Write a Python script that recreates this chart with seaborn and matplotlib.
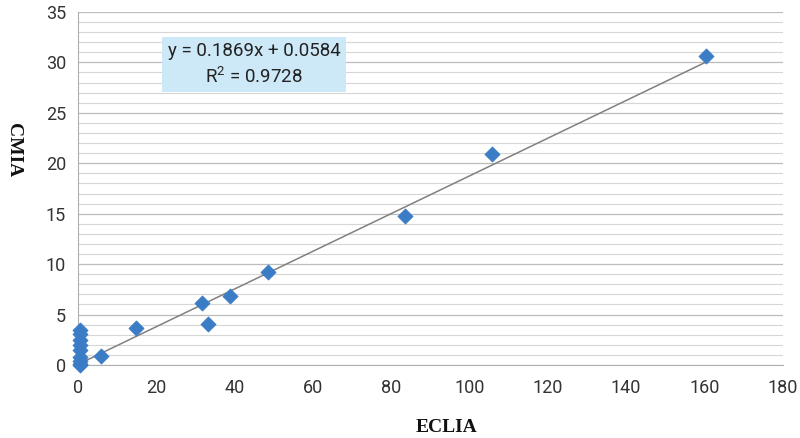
import numpy as np
import pandas as pd
import matplotlib
matplotlib.use("Agg")
import matplotlib.pyplot as plt
import seaborn as sns
from matplotlib.ticker import MultipleLocator

# data
eclia = [160.3, 105.7, 83.5, 48.5, 38.8, 33.2, 31.7, 14.8, 5.9,
         0.6, 0.6, 0.6, 0.6, 0.6, 0.6, 0.6, 0.6, 0.6]
cmia = [30.6, 20.9, 14.8, 9.2, 6.8, 4.1, 6.1, 3.7, 0.9,
        3.5, 3.1, 2.5, 2.0, 1.5, 0.8, 0.4, 0.1, 0.0]
slope = 0.1869
intercept = 0.0584
r2 = 0.9728

df = pd.DataFrame({"ECLIA": eclia, "CMIA": cmia})

sns.set_style("white")
plt.rcParams["font.family"] = ["Roboto", "DejaVu Sans"]

fig = plt.figure(figsize=(8, 4.38), dpi=100)
ax = fig.add_axes([0.0975, 0.1667, 0.881, 0.806])

# trend line
xs = np.array([df["ECLIA"].min(), df["ECLIA"].max()])
ax.plot(xs, slope * xs + intercept, color="#808080", lw=1.1, zorder=2)

sns.scatterplot(data=df, x="ECLIA", y="CMIA", marker="D", s=60,
                color="#3b7cc6", edgecolor="#3b7cc6", linewidth=0.5,
                ax=ax, zorder=3, clip_on=False)

ax.set_xlim(0, 180)
ax.set_ylim(0, 35)
ax.xaxis.set_major_locator(MultipleLocator(20))
ax.yaxis.set_major_locator(MultipleLocator(5))
ax.yaxis.set_minor_locator(MultipleLocator(1))
ax.grid(which="major", axis="y", color="#bcbcbc", lw=0.9)
ax.grid(which="minor", axis="y", color="#d6d6d6", lw=0.8)
ax.set_axisbelow(True)

for s in ["top", "right"]:
    ax.spines[s].set_visible(False)
ax.spines["left"].set_color("#b0b0b0")
ax.spines["bottom"].set_color("#b0b0b0")
ax.tick_params(axis="both", which="major", labelsize=13, colors="#333333",
               length=5, color="#b0b0b0", direction="out")
ax.tick_params(axis="y", which="minor", length=0)
ax.tick_params(axis="x", pad=5)

ax.set_xlabel("ECLIA", fontsize=14, fontweight="bold",
              family="Liberation Serif", color="#111111", va="center")
ax.xaxis.set_label_coords(0.523, -0.176)
ax.set_ylabel("CMIA", fontsize=14, fontweight="bold", rotation=-90,
              family="Liberation Serif", color="#111111", va="center", ha="center")
ax.yaxis.set_label_coords(-0.091, 0.61)

ax.text(0.2496, 0.851, f"y = {slope}x + {intercept}\n$\\mathregular{{R^2}}$ = {r2}",
        transform=ax.transAxes, ha="center", va="center", fontsize=13.5,
        color="#222222", linespacing=1.4,
        bbox=dict(boxstyle="square,pad=0.3", facecolor="#cde9f8", edgecolor="none"))

fig.savefig("out.png", dpi=100)
